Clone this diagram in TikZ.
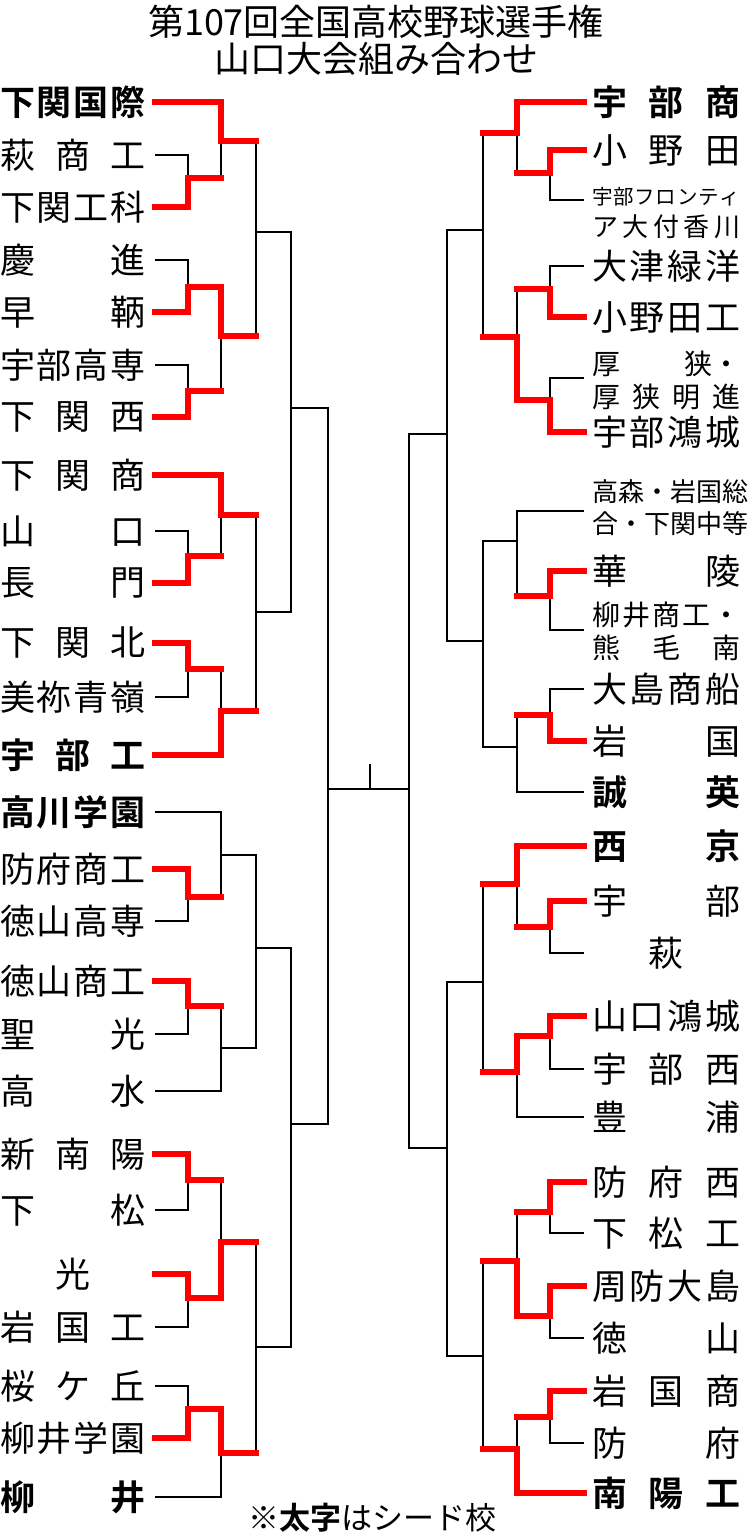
\documentclass[tikz,border=0pt]{standalone}
\usepackage{fontspec}
\setmainfont{Noto Sans CJK JP}[BoldFont={Noto Sans CJK JP Bold}]
\pgfdeclarelayer{redl}
\pgfsetlayers{main,redl}
\tikzset{
  blk/.style={draw=black,line width=1.4pt},
  win/.style={draw=red,line width=5.5pt,line cap=rect,line join=miter},
  nm/.style={anchor=west,inner sep=0pt,font=\fontsize{35}{35}\selectfont},
  nm2/.style={anchor=west,inner sep=0pt,font=\fontsize{26}{26}\selectfont},
  ttl/.style={inner sep=0pt,font=\fontsize{36}{36}\selectfont},
}
% \m{xin1}{y1}{xin2}{y2}{x}{ym}{xout}{winner}
\newcommand\m[8]{%
  \draw[blk] (#1,#2)--(#5,#2)--(#5,#4)--(#3,#4);
  \draw[blk] (#5,#6)--(#7,#6);
  \ifcase#8\or
    \begin{pgfonlayer}{redl}\draw[win] (#1,#2)--(#5,#2)--(#5,#6)--(#7,#6);\end{pgfonlayer}
  \or
    \begin{pgfonlayer}{redl}\draw[win] (#3,#4)--(#5,#4)--(#5,#6)--(#7,#6);\end{pgfonlayer}
  \fi}
\newcommand\Ln[3]{\node[nm] (#1) at (0,#2) {\makebox[145pt][l]{#3}};}
\newcommand\Rn[3]{\node[nm] (#1) at (592,#2) {\makebox[148pt][l]{#3}};}
\newcommand\Rt[3]{\node[nm2] (#1) at (592,#2) {\makebox[148pt][l]{#3}};}
\begin{document}
\begin{tikzpicture}[x=1pt,y=-1pt]
\useasboundingbox (0,0) rectangle (753,1536);
\node[ttl] (t1) at (376,22) {第107回全国高校野球選手権};
\node[ttl] (t2) at (376,59) {山口大会組み合わせ};
% left names
\Ln{a1}{102}{\bfseries 下\hfill 関\hfill 国\hfill 際}
\Ln{a2}{155}{萩\hfill 商\hfill 工}
\Ln{a3}{207}{下\hfill 関\hfill 工\hfill 科}
\Ln{a4}{260}{慶\hfill 進}
\Ln{a5}{312}{早\hfill 鞆}
\Ln{a6}{365}{宇\hfill 部\hfill 高\hfill 専}
\Ln{a7}{417}{下\hfill 関\hfill 西}
\Ln{a8}{475}{下\hfill 関\hfill 商}
\Ln{a9}{531}{山\hfill 口}
\Ln{a10}{583}{長\hfill 門}
\Ln{a11}{643}{下\hfill 関\hfill 北}
\Ln{a12}{697}{美\hfill 祢\hfill 青\hfill 嶺}
\Ln{a13}{755}{\bfseries 宇\hfill 部\hfill 工}
\Ln{a14}{812}{\bfseries 高\hfill 川\hfill 学\hfill 園}
\Ln{a15}{869}{防\hfill 府\hfill 商\hfill 工}
\Ln{a16}{921}{徳\hfill 山\hfill 高\hfill 専}
\Ln{a17}{981}{徳\hfill 山\hfill 商\hfill 工}
\Ln{a18}{1034}{聖\hfill 光}
\Ln{a19}{1091}{高\hfill 水}
\Ln{a20}{1154}{新\hfill 南\hfill 陽}
\Ln{a21}{1210}{下\hfill 松}
\Ln{a22}{1274}{\hfill 光\hfill}
\Ln{a23}{1327}{岩\hfill 国\hfill 工}
\Ln{a24}{1386}{桜\hfill ケ\hfill 丘}
\Ln{a25}{1438}{柳\hfill 井\hfill 学\hfill 園}
\Ln{a26}{1497}{\bfseries 柳\hfill 井}
% right names
\Rn{b1}{102}{\bfseries 宇\hfill 部\hfill 商}
\Rn{b2}{150}{小\hfill 野\hfill 田}
\node[nm2,font=\fontsize{20.5}{20.5}\selectfont] (b3) at (592,197) {\makebox[148pt][l]{宇\hfill 部\hfill フ\hfill ロ\hfill ン\hfill テ\hfill ィ}};
\Rt{b3b}{227}{ア\hfill 大\hfill 付\hfill 香\hfill 川}
\Rn{b4}{266}{大\hfill 津\hfill 緑\hfill 洋}
\Rn{b5}{317}{小\hfill 野\hfill 田\hfill 工}
\node[nm,font=\fontsize{28}{28}\selectfont] (b6) at (592,364) {\makebox[148pt][l]{厚\hfill 狭・}};
\node[nm,font=\fontsize{28}{28}\selectfont] (b6b) at (592,397) {\makebox[148pt][l]{厚\hfill 狭\hfill 明\hfill 進}};
\Rn{b7}{432}{宇\hfill 部\hfill 鴻\hfill 城}
\Rt{b8}{492}{高\hfill 森\hfill ・\hfill 岩\hfill 国\hfill 総}
\Rt{b8b}{524}{合\hfill ・\hfill 下\hfill 関\hfill 中\hfill 等}
\Rn{b9}{571}{華\hfill 陵}
\node[nm,font=\fontsize{28}{28}\selectfont] (b10) at (592,615) {\makebox[148pt][l]{柳\hfill 井\hfill 商\hfill 工\hfill ・}};
\node[nm,font=\fontsize{28}{28}\selectfont] (b10b) at (592,648) {\makebox[148pt][l]{熊\hfill 毛\hfill 南}};
\Rn{b11}{689}{大\hfill 島\hfill 商\hfill 船}
\Rn{b12}{741}{岩\hfill 国}
\Rn{b13}{792}{\bfseries 誠\hfill 英}
\Rn{b14}{846}{\bfseries 西\hfill 京}
\Rn{b15}{901}{宇\hfill 部}
\Rn{b16}{953}{\hfill 萩\hfill}
\Rn{b17}{1016}{山\hfill 口\hfill 鴻\hfill 城}
\Rn{b18}{1069}{宇\hfill 部\hfill 西}
\Rn{b19}{1117}{豊\hfill 浦}
\Rn{b20}{1182}{防\hfill 府\hfill 西}
\Rn{b21}{1233}{下\hfill 松\hfill 工}
\Rn{b22}{1286}{周\hfill 防\hfill 大\hfill 島}
\Rn{b23}{1338}{徳\hfill 山}
\Rn{b24}{1391}{岩\hfill 国\hfill 商}
\Rn{b25}{1443}{防\hfill 府}
\Rn{b26}{1493}{\bfseries 南\hfill 陽\hfill 工}
% left bracket
\m{155}{155}{155}{207}{188}{178}{221}{2}
\m{155}{102}{188}{178}{221}{141}{256}{1}
\m{155}{260}{155}{312}{188}{287}{221}{2}
\m{155}{365}{155}{417}{188}{391}{221}{2}
\m{188}{287}{188}{391}{221}{336}{256}{1}
\m{221}{141}{221}{336}{256}{232}{291}{0}
\m{155}{531}{155}{583}{188}{556}{221}{2}
\m{155}{475}{188}{556}{221}{515}{256}{1}
\m{155}{643}{155}{697}{188}{669}{221}{1}
\m{188}{669}{155}{755}{221}{711}{256}{2}
\m{221}{515}{221}{711}{256}{612}{291}{0}
\m{256}{232}{256}{612}{291}{408}{328}{0}
\m{155}{869}{155}{921}{188}{897}{221}{1}
\m{155}{812}{188}{897}{221}{855}{256}{0}
\m{155}{981}{155}{1034}{188}{1006}{221}{1}
\m{188}{1006}{155}{1091}{221}{1048}{256}{0}
\m{221}{855}{221}{1048}{256}{948}{291}{0}
\m{155}{1154}{155}{1210}{188}{1180}{221}{1}
\m{155}{1274}{155}{1327}{188}{1298}{221}{1}
\m{188}{1180}{188}{1298}{221}{1242}{256}{2}
\m{155}{1386}{155}{1438}{188}{1409}{221}{2}
\m{188}{1409}{155}{1497}{221}{1453}{256}{1}
\m{221}{1242}{221}{1453}{256}{1347}{291}{0}
\m{256}{948}{256}{1347}{291}{1124}{328}{0}
\m{291}{408}{291}{1124}{328}{789}{409}{0}
% right bracket
\m{584}{150}{584}{200}{550}{173}{517}{1}
\m{584}{102}{550}{173}{517}{133}{483}{1}
\m{584}{266}{584}{317}{550}{289}{517}{2}
\m{584}{378}{584}{432}{550}{400}{517}{2}
\m{550}{289}{550}{400}{517}{337}{483}{2}
\m{517}{133}{517}{337}{483}{230}{447}{0}
\m{584}{571}{584}{630}{550}{596}{517}{1}
\m{584}{511}{550}{596}{517}{541}{483}{0}
\m{584}{689}{584}{741}{550}{715}{517}{2}
\m{550}{715}{584}{792}{517}{747}{483}{0}
\m{517}{541}{517}{747}{483}{641}{447}{0}
\m{483}{230}{483}{641}{447}{434}{409}{0}
\m{584}{901}{584}{953}{550}{927}{517}{1}
\m{584}{846}{550}{927}{517}{884}{483}{1}
\m{584}{1016}{584}{1069}{550}{1036}{517}{1}
\m{550}{1036}{584}{1117}{517}{1072}{483}{1}
\m{517}{884}{517}{1072}{483}{982}{447}{0}
\m{584}{1182}{584}{1233}{550}{1212}{517}{1}
\m{584}{1286}{584}{1338}{550}{1316}{517}{1}
\m{550}{1212}{550}{1316}{517}{1261}{483}{2}
\m{584}{1391}{584}{1443}{550}{1417}{517}{1}
\m{550}{1417}{584}{1493}{517}{1449}{483}{2}
\m{517}{1261}{517}{1449}{483}{1356}{447}{0}
\m{483}{982}{483}{1356}{447}{1148}{409}{0}
\m{447}{434}{447}{1148}{409}{789}{328}{0}
\coordinate (tk) at (370,764);
\coordinate (tkb) at (370,789);
\draw[blk] (tk)--(tkb);
\node[inner sep=0pt,font=\fontsize{31}{31}\selectfont] (fn) at (372,1518) {※\textbf{太字}はシード校};
\end{tikzpicture}
\end{document}
